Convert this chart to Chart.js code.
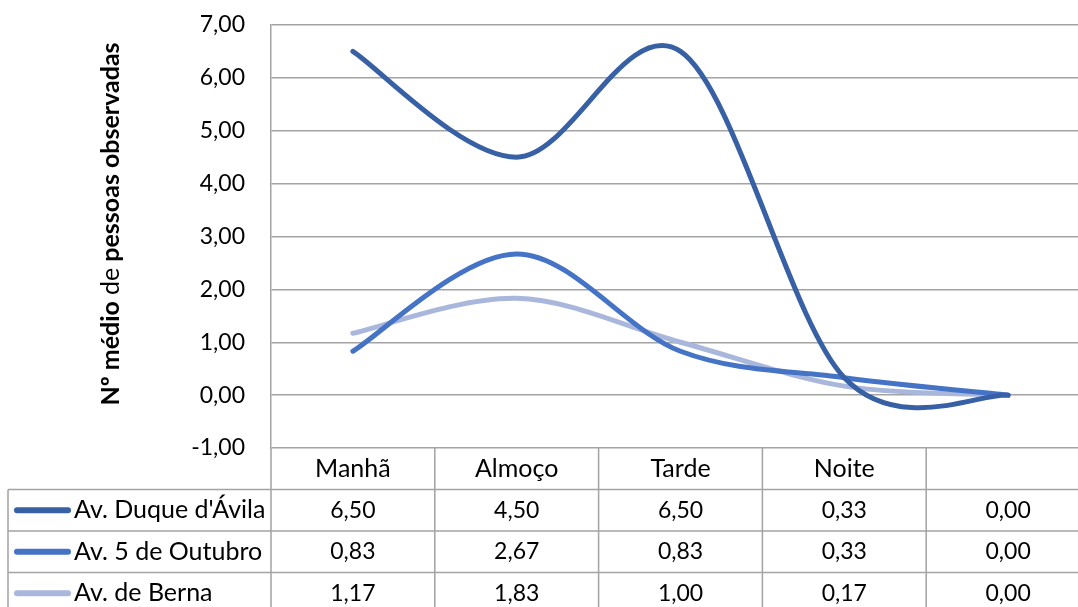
<!DOCTYPE html>
<html>
<head>
<meta charset="utf-8">
<script src="https://cdn.jsdelivr.net/npm/chart.js@4.4.0/dist/chart.umd.min.js"></script>
<style>
  html, body { margin: 0; padding: 0; background: #fff; overflow: hidden; }
  #wrap { width: 1078px; height: 607px; overflow: hidden; }
  canvas { display: block; }
</style>
</head>
<body>
<div id="wrap"><canvas id="chart" width="1094" height="620"></canvas></div>
<script>
const categories = ["Manhã", "Almoço", "Tarde", "Noite", ""];
const seriesNames = ["Av. Duque d'Ávila", "Av. 5 de Outubro", "Av. de Berna"];
const duqueAvila = [6.50, 4.50, 6.50, 0.33, 0.00];
const cincoOutubro = [0.83, 2.67, 0.83, 0.33, 0.00];
const berna = [1.17, 1.83, 1.00, 0.17, 0.00];
const yMin = -1, yMax = 7, yStep = 1;

const FONT = "Lato, 'Noto Sans', sans-serif";
const GRID = "#a3a3a3";
const fmt = v => v.toFixed(2).replace(".", ",");

// suavizacao estilo Excel: pontos de controlo a 1/6 da tangente (Catmull-Rom)
const excelSmoothPlugin = {
  id: "excelSmooth",
  afterDatasetsUpdate(chart) {
    chart.data.datasets.forEach((ds, i) => {
      const meta = chart.getDatasetMeta(i);
      meta.dataset.updateControlPoints(chart.chartArea, "x");
      const pts = meta.data;
      pts.forEach((p, k) => {
        const prev = pts[k - 1] || p;
        const next = pts[k + 1] || p;
        const dx = (next.x - prev.x) / 6;
        const dy = (next.y - prev.y) / 6;
        p.cp1x = p.x - dx; p.cp1y = p.y - dy;
        p.cp2x = p.x + dx; p.cp2y = p.y + dy;
      });
    });
  }
};

// titulo do eixo Y com "de" sem negrito
const yTitlePlugin = {
  id: "yTitle",
  afterDraw(chart) {
    const ctx = chart.ctx;
    const parts = [["Nº médio ", "bold"], ["de", "normal"], [" pessoas observadas", "bold"]];
    ctx.save();
    ctx.translate(119, 224);
    ctx.rotate(-Math.PI / 2);
    ctx.fillStyle = "#000";
    ctx.textBaseline = "alphabetic";
    ctx.textAlign = "left";
    let total = 0;
    parts.forEach(p => { ctx.font = `${p[1]} 25px ${FONT}`; total += ctx.measureText(p[0]).width; });
    let x = -total / 2;
    parts.forEach(p => {
      ctx.font = `${p[1]} 25px ${FONT}`;
      ctx.fillText(p[0], x, 0);
      x += ctx.measureText(p[0]).width;
    });
    ctx.restore();
  }
};

// tabela de dados por baixo do grafico
const dataTablePlugin = {
  id: "dataTable",
  afterDraw(chart) {
    const ctx = chart.ctx;
    const area = chart.chartArea;
    const xs = chart.scales.x;
    const n = categories.length;
    const colW = (area.right - area.left) / n;
    const rowH = 41.5;
    const top = area.bottom;
    const nRows = chart.data.datasets.length;
    const bottom = top + rowH * (nRows + 1);
    const leftEdge = 8;

    ctx.save();
    ctx.strokeStyle = GRID;
    ctx.lineWidth = 1.5;
    ctx.beginPath();
    for (let r = 1; r <= nRows + 1; r++) {
      const y = top + rowH * r;
      ctx.moveTo(leftEdge, y); ctx.lineTo(chart.width, y);
    }
    ctx.moveTo(leftEdge, top + rowH); ctx.lineTo(leftEdge, bottom);
    for (let i = 0; i <= n; i++) {
      const x = area.left + colW * i;
      ctx.moveTo(x, top); ctx.lineTo(x, bottom);
    }
    ctx.stroke();

    ctx.fillStyle = "#000";
    ctx.font = `25px ${FONT}`;
    ctx.textBaseline = "middle";
    ctx.textAlign = "center";
    categories.forEach((c, i) => {
      ctx.fillText(c, xs.getPixelForValue(i), top + rowH / 2);
    });

    chart.data.datasets.forEach((ds, r) => {
      const cy = top + rowH * (r + 1.5);
      ctx.strokeStyle = ds.borderColor;
      ctx.lineWidth = 6;
      ctx.lineCap = "round";
      ctx.beginPath();
      ctx.moveTo(17, cy); ctx.lineTo(68, cy);
      ctx.stroke();
      ctx.font = `25px ${FONT}`;
      ctx.textAlign = "left";
      ctx.fillText(ds.label, 74, cy);
      ctx.font = `23px ${FONT}`;
      ctx.textAlign = "center";
      ds.data.forEach((v, i) => ctx.fillText(fmt(v), xs.getPixelForValue(i), cy));
    });
    ctx.restore();
  }
};

const lineStyle = (label, data, color) => ({
  label, data,
  borderColor: color,
  backgroundColor: color,
  borderWidth: 5,
  borderCapStyle: "round",
  borderJoinStyle: "round",
  pointRadius: 0,
  tension: 0.4,
  fill: false
});

new Chart(document.getElementById("chart"), {
  type: "line",
  data: {
    labels: categories,
    datasets: [
      lineStyle(seriesNames[0], duqueAvila, "#3860a4"),
      lineStyle(seriesNames[1], cincoOutubro, "#4573c6"),
      lineStyle(seriesNames[2], berna, "#a9b7dc")
    ]
  },
  options: {
    responsive: false,
    animation: false,
    devicePixelRatio: 1,
    layout: { autoPadding: false, padding: { left: 0, top: 25, right: 4, bottom: 172 } },
    plugins: { legend: { display: false }, tooltip: { enabled: false } },
    scales: {
      x: {
        type: "category",
        offset: true,
        display: false
      },
      y: {
        min: yMin, max: yMax,
        afterFit: s => { s.width = 271; s.paddingTop = 0; s.paddingBottom = 0; },
        ticks: {
          stepSize: yStep,
          padding: 26,
          color: "#000",
          font: { family: FONT, size: 23 },
          callback: v => fmt(v)
        },
        grid: { color: GRID, lineWidth: 1.5, drawTicks: false },
        border: { color: GRID, width: 1.5 }
      }
    }
  },
  plugins: [excelSmoothPlugin, yTitlePlugin, dataTablePlugin]
});
</script>
</body>
</html>
